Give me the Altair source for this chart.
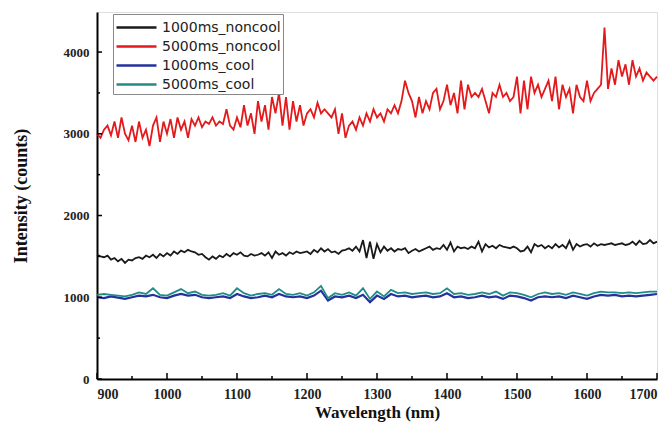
import altair as alt
import pandas as pd

# ---- data ----
wl_fine = list(range(900, 1701, 5))
wl_coarse = list(range(900, 1701, 10))

red_5000_noncool = [
    3000, 2950, 3050, 3100, 2980, 3150, 2950, 3200, 3000, 2920,
    3100, 2900, 3150, 2950, 3050, 2850, 3100, 3200, 2900, 3150,
    3000, 3180, 2950, 3200, 3050, 3150, 2950, 3180, 3100, 3200,
    3080, 3150, 3120, 3200, 3100, 3150, 3120, 3300, 3100, 3050,
    3200, 3080, 3350, 3100, 3250, 3000, 3400, 3150, 3350, 3050,
    3450, 3250, 3500, 3100, 3450, 3050, 3400, 3150, 3350, 3100,
    3250, 3300, 3200, 3380, 3250, 3300, 3250, 3200, 3300, 3000,
    3250, 2950, 3100, 3150, 3050, 3200, 3100, 3250, 3150, 3300,
    3200, 3250, 3150, 3300, 3250, 3350, 3250, 3400, 3650, 3500,
    3400, 3200, 3450, 3250, 3400, 3300, 3500, 3550, 3300, 3400,
    3600, 3350, 3500, 3250, 3650, 3300, 3600, 3450, 3500, 3450,
    3550, 3400, 3250, 3500, 3450, 3600, 3450, 3500, 3400, 3450,
    3700, 3250, 3650, 3300, 3700, 3500, 3600, 3450, 3550, 3650,
    3400, 3700, 3300, 3600, 3450, 3550, 3250, 3600, 3450, 3400,
    3650, 3400, 3500, 3550, 3600, 4300, 3550, 3800, 3600, 3900,
    3700, 3850, 3600, 3900, 3700, 3800, 3650, 3750, 3700, 3650,
    3700,
]

black_1000_noncool = [
    1520, 1500, 1490, 1510, 1460, 1480, 1440, 1470, 1420, 1460,
    1450, 1480, 1490, 1470, 1510, 1490, 1520, 1480, 1530, 1500,
    1540, 1510, 1560, 1530, 1570, 1550, 1580, 1560, 1550, 1520,
    1530, 1490, 1460, 1500, 1470, 1510, 1490, 1530, 1500, 1540,
    1520, 1550, 1510, 1500, 1530, 1510, 1520, 1540, 1510, 1550,
    1480, 1560, 1520, 1540, 1510, 1550, 1530, 1560, 1540, 1550,
    1560, 1530, 1580, 1550, 1600, 1560, 1590, 1550, 1560, 1530,
    1570, 1580, 1600, 1570, 1620, 1560, 1700, 1480, 1680, 1470,
    1650, 1550, 1620, 1570, 1600, 1560, 1590, 1580, 1600, 1540,
    1570, 1590, 1560, 1580, 1600, 1620, 1580, 1600, 1590, 1640,
    1580, 1670, 1560, 1620, 1600, 1610, 1590, 1620, 1600, 1680,
    1560, 1650, 1610, 1630, 1600, 1640, 1620, 1610, 1600, 1620,
    1600, 1560, 1570, 1620, 1550, 1650, 1620, 1640, 1600, 1630,
    1600, 1650, 1610, 1640, 1600, 1690, 1580, 1650, 1620, 1640,
    1650, 1620, 1660, 1630, 1650, 1640, 1650, 1660, 1640, 1650,
    1660, 1640, 1650, 1680, 1640, 1690, 1650, 1660, 1700, 1660,
    1680,
]

blue_1000_cool = [
    1000, 990, 1010, 995, 980, 1000, 1020, 1010, 1030, 1000,
    990, 1020, 1040, 1020, 1030, 1000, 990, 1000, 1010, 990,
    1040, 1010, 990, 1000, 1020, 1000, 1040, 1010, 1000, 1010,
    990, 1020, 1080, 960, 1010, 1000, 1020, 990, 1030, 940,
    1020, 980, 1040, 1010, 1020, 1000, 1010, 1020, 1000, 1010,
    1050, 1000, 1010, 990, 1000, 1020, 1000, 1010, 980, 1020,
    1010, 990, 960, 1000, 1010, 1000, 1010, 990, 1020, 1000,
    980, 1010, 1030, 1020, 1030, 1010, 1020, 1010, 1020, 1030,
    1040,
]

teal_5000_cool = [
    1030, 1040, 1030, 1020, 1010, 1030, 1060, 1040, 1110, 1030,
    1020, 1060, 1100, 1050, 1070, 1030, 1020, 1030, 1050, 1020,
    1110, 1050, 1020, 1040, 1050, 1030, 1100, 1040, 1030, 1050,
    1020, 1060, 1140, 990, 1050, 1030, 1060, 1020, 1110, 980,
    1070, 1010, 1090, 1050, 1060, 1040, 1050, 1060, 1040, 1050,
    1110, 1040, 1050, 1030, 1040, 1060, 1040, 1070, 1020, 1060,
    1050, 1030, 1000, 1040, 1060, 1040, 1050, 1030, 1060, 1040,
    1020, 1050, 1070, 1060, 1060, 1050, 1060, 1050, 1060, 1070,
    1070,
]

series_names = ["1000ms_noncool", "5000ms_noncool", "1000ms_cool", "5000ms_cool"]
series_colors = ["#1a1a1a", "#e3191c", "#23329c", "#1f8c88"]

x_major = list(range(900, 1701, 100))
x_minor = list(range(950, 1700, 100))
y_major = [0, 1000, 2000, 3000, 4000]
y_minor = [500, 1500, 2500, 3500]

# ---- build tables ----
def frame(name, xs, ys):
    return pd.DataFrame({"wl": xs, "val": ys, "series": name})

df_black = frame(series_names[0], wl_fine, black_1000_noncool)
df_red = frame(series_names[1], wl_fine, red_5000_noncool)
df_blue = frame(series_names[2], wl_coarse, blue_1000_cool)
df_teal = frame(series_names[3], wl_coarse, teal_5000_cool)

W, H = 560, 367
xscale = alt.Scale(domain=[900, 1700], nice=False, zero=False)
yscale = alt.Scale(domain=[0, 4490], nice=False)
color = alt.Color(
    "series:N",
    scale=alt.Scale(domain=series_names, range=series_colors),
    sort=series_names,
    legend=alt.Legend(
        title=None,
        orient="none",
        legendX=16,
        legendY=2,
        symbolType="M-1,0L3,0",
        symbolSize=400,
        symbolStrokeWidth=2.5,
        labelFont="DejaVu Sans",
        labelFontSize=14,
        labelColor="#222",
        rowPadding=-1,
        padding=2,
        strokeColor="#888",
        fillColor="white",
        labelOffset=24,
    ),
)

xaxis = alt.Axis(
    values=x_major, format="d", title="Wavelength (nm)", grid=False,
    tickSize=0, labelPadding=8, domainColor="#000", domainWidth=2,
    labelFont="Liberation Serif", labelFontWeight="bold", labelFontSize=14,
    labelColor="#222", titleFont="Liberation Serif", titleFontWeight="bold",
    titleFontSize=17, titleColor="#111", titlePadding=3,
)
yaxis = alt.Axis(
    values=y_major, format="d", title="Intensity (counts)", grid=False,
    tickSize=0, labelPadding=8, domainColor="#000", domainWidth=2,
    labelFont="Liberation Serif", labelFontWeight="bold", labelFontSize=13,
    labelColor="#222", titleFont="Liberation Serif", titleFontWeight="bold",
    titleFontSize=18, titleColor="#111", titlePadding=33,
)

def line(df, width=1.8):
    return alt.Chart(df).mark_line(strokeWidth=width).encode(
        x=alt.X("wl:Q", scale=xscale, axis=xaxis),
        y=alt.Y("val:Q", scale=yscale, axis=yaxis),
        color=color,
    )

xt_major = alt.Chart(pd.DataFrame({"t": x_major})).mark_rule(color="#000", strokeWidth=1.5).encode(
    x=alt.X("t:Q", scale=xscale), y=alt.value(H), y2=alt.value(H - 6))
xt_minor = alt.Chart(pd.DataFrame({"t": x_minor})).mark_rule(color="#000", strokeWidth=1.5).encode(
    x=alt.X("t:Q", scale=xscale), y=alt.value(H), y2=alt.value(H - 3))
yt_major = alt.Chart(pd.DataFrame({"t": y_major})).mark_rule(color="#000", strokeWidth=1.5).encode(
    y=alt.Y("t:Q", scale=yscale), x=alt.value(0), x2=alt.value(5))
yt_minor = alt.Chart(pd.DataFrame({"t": y_minor})).mark_rule(color="#000", strokeWidth=1.5).encode(
    y=alt.Y("t:Q", scale=yscale), x=alt.value(0), x2=alt.value(3))

chart = alt.layer(
    line(df_black), line(df_red), line(df_blue, 2.2), line(df_teal, 1.8),
    xt_major, xt_minor, yt_major, yt_minor,
).properties(
    width=W, height=H,
    autosize=alt.AutoSizeParams(type="none"),
    padding={"left": 89, "top": 4, "right": 6, "bottom": 48},
).configure_view(
    stroke="#8a8a8a", strokeWidth=2,
).configure(background="white")

chart.save("out.html", embed_options={"renderer": "svg", "actions": False})
